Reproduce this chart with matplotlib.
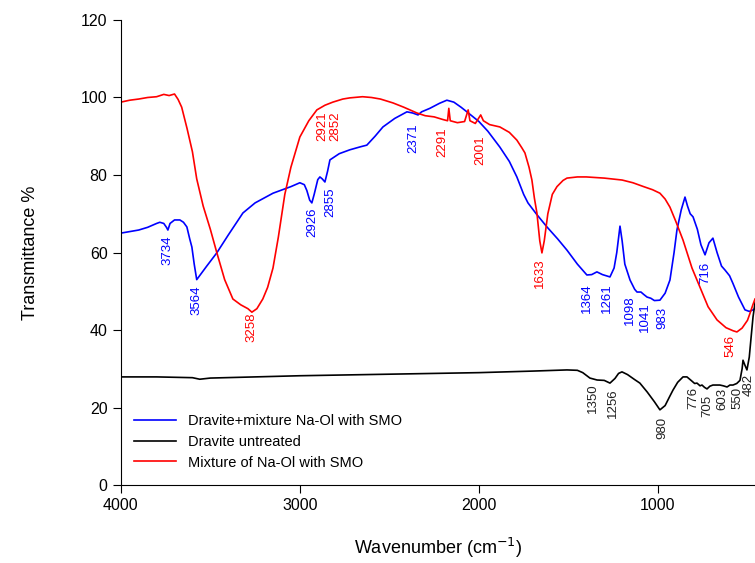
import matplotlib.pyplot as plt

plt.rcParams['font.family'] = ['Liberation Sans', 'DejaVu Sans']

# Mixture of Na-Ol with SMO (red)
red_x = [4000, 3950, 3900, 3850, 3800, 3760, 3730, 3700, 3680, 3660, 3630, 3600, 3576, 3540,
         3500, 3464, 3420, 3374, 3330, 3290, 3268, 3240, 3207, 3180, 3150, 3120, 3084, 3050,
         3000, 2950, 2905, 2860, 2816, 2760, 2721, 2650, 2600, 2550, 2480, 2420, 2346, 2300,
         2250, 2200, 2175, 2168, 2160, 2120, 2080, 2060, 2050, 2020, 1990, 1975, 1940, 1883,
         1830, 1788, 1760, 1743, 1720, 1704, 1690, 1676, 1660, 1648, 1635, 1615, 1590, 1564,
         1530, 1508, 1450, 1400, 1300, 1200, 1140, 1080, 1030, 989, 960, 933, 900, 860, 810,
         765, 720, 670, 620, 580, 559, 530, 500, 486, 470, 458]
red_y = [98.8, 99.3, 99.6, 100.0, 100.2, 100.8, 100.5, 100.9, 99.5, 97.5, 92, 86, 79, 72,
         66, 60, 53, 48, 46.5, 45.5, 44.6, 45.5, 48, 51, 56, 64, 75, 82,
         89.8, 94, 96.8, 98, 98.8, 99.6, 99.9, 100.2, 100, 99.6, 98.6, 97.5, 96, 95.3,
         95, 94.3, 94, 97.2, 94, 93.5, 93.8, 96.8, 94, 93.3, 95.5, 94, 93, 92.4,
         91, 89, 87, 85.7, 82, 78.7, 74, 70.2, 63, 59.9, 63, 70, 75, 77,
         78.6, 79.2, 79.5, 79.5, 79.2, 78.7, 78, 77, 76.2, 75.3, 73.8, 71.7, 68, 63.2, 56,
         51, 46, 42.6, 40.6, 39.8, 39.5, 40.5, 42.5, 44.3, 46.5, 48]

# Dravite+mixture Na-Ol with SMO (blue)
blue_x = [4000, 3900, 3850, 3800, 3782, 3760, 3745, 3737, 3725, 3700, 3670, 3650, 3631, 3615,
          3603, 3590, 3576, 3560, 3520, 3464, 3400, 3318, 3250, 3150, 3050, 3000, 2975, 2961,
          2945, 2933, 2920, 2900, 2888, 2875, 2860, 2845, 2832, 2780, 2721, 2660, 2626, 2580,
          2536, 2470, 2402, 2370, 2340, 2320, 2274, 2220, 2179, 2140, 2100, 2067, 2000, 1950,
          1883, 1830, 1788, 1750, 1726, 1680, 1620, 1560, 1508, 1450, 1397, 1370, 1341, 1310,
          1268, 1245, 1230, 1212, 1200, 1185, 1156, 1130, 1117, 1095, 1080, 1061, 1040, 1020,
          989, 960, 933, 910, 894, 870, 849, 835, 820, 804, 780, 760, 737, 715, 693, 670,
          645, 626, 600, 581, 550, 514, 490, 469, 458]
blue_y = [65, 65.8, 66.5, 67.5, 67.8, 67.5, 66.5, 65.8, 67.5, 68.4, 68.4, 67.8, 66.6, 63.5,
          61.4, 57, 53, 54, 56.5, 59.9, 64.5, 70.2, 72.8, 75.3, 77, 78, 77.5, 76,
          73.5, 72.8, 75, 78.8, 79.5, 79, 78.2, 81, 83.9, 85.5, 86.5, 87.3, 87.7, 90,
          92.4, 94.6, 96.3, 96, 95.5, 96.3, 97.2, 98.5, 99.3, 98.8, 97.5, 96.3, 93.8, 91.3,
          87.2, 83.5, 79.5, 75, 72.8, 70, 66.6, 63.5, 60.6, 57, 54.2, 54.3, 55, 54.3,
          53.7, 56, 60, 66.8, 63, 57, 52.9, 50.5, 49.8, 49.8, 49.2, 48.5, 48.2, 47.6,
          47.7, 49.5, 52.9, 60, 65.8, 71, 74.3, 72, 70, 69.2, 66, 62, 59.4, 62.5, 63.7, 60,
          56.5, 55.5, 54, 52, 48.5, 45.2, 44.8, 45.2, 45.5]

# Dravite untreated (black)
black_x = [4000, 3800, 3600, 3559, 3500, 3000, 2500, 2000, 1700, 1508, 1450, 1420, 1380, 1340,
           1300, 1268, 1240, 1220, 1201, 1170, 1130, 1101, 1060, 1020, 989, 960, 935, 916,
           890, 860, 838, 815, 795, 782, 765, 754, 740, 726, 710, 693, 675, 654, 635, 614,
           598, 581, 560, 542, 530, 525, 515, 503, 490, 480, 469, 458]
black_y = [27.9, 27.9, 27.7, 27.3, 27.6, 28.2, 28.6, 29.0, 29.4, 29.7, 29.6, 29, 27.6, 27.1,
           27, 26.3, 27.5, 28.8, 29.2, 28.5, 27.2, 26.3, 24, 21.5, 19.4, 20.5, 22.8, 24.5,
           26.5, 27.9, 27.9, 27, 26.2, 26.3, 25.6, 25.8, 25.2, 24.8, 25.5, 25.8, 25.8, 25.8,
           25.6, 25.3, 25.8, 25.8, 26.2, 27, 30, 32.2, 31, 29.7, 33, 38, 43.4, 47]

# peak labels: text, x, y (top of rotated text), color
peaks = [
    ("3734", 3737, 64.5, 'blue'), ("3564", 3575, 51.6, 'blue'), ("3258", 3268, 44.4, 'red'),
    ("2926", 2933, 71.5, 'blue'), ("2855", 2832, 76.9, 'blue'),
    ("2921", 2877, 96.3, 'red'), ("2852", 2804, 96.3, 'red'),
    ("2371", 2369, 93.4, 'blue'), ("2291", 2207, 92.4, 'red'), ("2001", 1994, 90.3, 'red'),
    ("1633", 1659, 58.6, 'red'), ("1364", 1397, 52.1, 'blue'), ("1261", 1285, 52.1, 'blue'),
    ("1098", 1156, 49.0, 'blue'), ("1041", 1073, 47.2, 'blue'), ("983", 978, 45.9, 'blue'),
    ("716", 737, 57.5, 'blue'), ("546", 598, 38.7, 'red'),
    ("1350", 1363, 26.3, '#222222'), ("1256", 1251, 25.0, '#222222'), ("980", 978, 17.5, '#222222'),
    ("776", 804, 25.3, '#222222'), ("705", 726, 23.2, '#222222'), ("603", 642, 25.0, '#222222'),
    ("550", 558, 25.3, '#222222'), ("482", 492, 28.6, '#222222'),
]

fig = plt.figure(figsize=(7.55, 5.63), dpi=100)
ax = fig.add_axes([0.160, 0.1385, 0.84, 0.826])

ax.plot(blue_x, blue_y, color='#0000ff', lw=1.2, label='Dravite+mixture Na-Ol with SMO')
ax.plot(black_x, black_y, color='black', lw=1.2, label='Dravite untreated')
ax.plot(red_x, red_y, color='#ff0000', lw=1.2, label='Mixture of Na-Ol with SMO')

for txt, x, y, c in peaks:
    ax.text(x, y, txt, rotation=90, ha='center', va='top', color=c, fontsize=9.5)

ax.set_xlim(4000, 458)
ax.set_ylim(0, 120)
ax.set_xticks([4000, 3000, 2000, 1000])
ax.set_yticks(range(0, 121, 20))
ax.spines['top'].set_visible(False)
ax.spines['right'].set_visible(False)
ax.tick_params(direction='out', length=6, labelsize=11.5)
ax.set_xlabel('Wavenumber (cm$^{-1}$)', fontsize=13, labelpad=16)
ax.set_ylabel('Transmittance %', fontsize=13, labelpad=30)

ax.legend(loc='upper left', bbox_to_anchor=(0.0, 0.18), frameon=False, fontsize=10.5,
          handlelength=2.9, labelspacing=0.45)

fig.savefig('out.png', dpi=100)
